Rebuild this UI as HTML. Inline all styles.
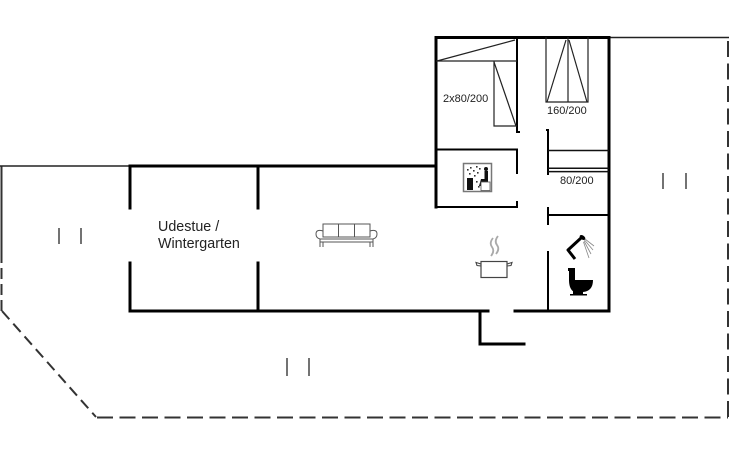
<!DOCTYPE html>
<html>
<head>
<meta charset="utf-8">
<style>
  html, body { margin: 0; padding: 0; background: #fff; }
  svg { display: block; }
  text { font-family: "Liberation Sans", Arial, sans-serif; fill: #222; }
</style>
</head>
<body>
<svg width="730" height="450" viewBox="0 0 730 450" xmlns="http://www.w3.org/2000/svg">
  <rect x="0" y="0" width="730" height="450" fill="#fff"/>

  <!-- Outer boundary (terrace) -->
  <g fill="none" stroke="#333" stroke-width="2">
    <path d="M1.5,166 V252"/>
    <path d="M1.5,252 V311" stroke-dasharray="11 5"/>
    <path d="M2,311 L96,417" stroke-dasharray="11 6"/>
    <path d="M97,417.5 H728" stroke-dasharray="16 6.5"/>
    <path d="M728,417 V38" stroke-dasharray="16 6.5"/>
  </g>
  <path d="M0,166 H130" stroke="#222" stroke-width="1.6" fill="none"/>
  <path d="M609,37.5 H729" stroke="#222" stroke-width="1.6" fill="none"/>

  <!-- Thick exterior walls -->
  <g fill="none" stroke="#000" stroke-width="3" stroke-linecap="square">
    <path d="M130,166 H436"/>
    <path d="M436,207 V37.5 H609 V311"/>
    <path d="M130,208 V166"/>
    <path d="M130,263 V311 H488"/>
    <path d="M258,166 V208"/>
    <path d="M258,263 V311"/>
    <path d="M480,311 V344 H524"/>
    <path d="M515,311 H609"/>
  </g>

  <!-- Interior walls -->
  <g fill="none" stroke="#000" stroke-width="2">
    <path d="M517,37 V132 H520"/>
    <path d="M436,149.5 H517 V174"/>
    <path d="M517,201 V207 H436"/>
    <path d="M546,130 H548 V175"/>
    <path d="M548,207 V225"/>
    <path d="M548,215 H609"/>
    <path d="M548,251 V311"/>
  </g>
  <g fill="none" stroke="#111" stroke-width="1.5">
    <path d="M548,150.5 H609"/>
    <path d="M548,168.2 H609"/>
    <path d="M548,171.6 H609"/>
  </g>

  <!-- Beds -->
  <g fill="none" stroke="#222" stroke-width="1.2">
    <path d="M436,61 H517"/>
    <path d="M437,61 L515,40"/>
    <path d="M494,61 V126 H517"/>
    <path d="M494,62 L516,126"/>
    <path d="M546,37 V102 H588 V37"/>
    <path d="M568,37 V102"/>
    <path d="M547,102 L566,40"/>
    <path d="M569,40 L587,102"/>
  </g>

  <!-- Labels -->
  <text x="443" y="102" font-size="11">2x80/200</text>
  <text x="547" y="114" font-size="11">160/200</text>
  <text x="560" y="184" font-size="11">80/200</text>
  <text x="158" y="231" font-size="14.3">Udestue /</text>
  <text x="158" y="248" font-size="14.3">Wintergarten</text>

  <!-- Small marks -->
  <g stroke="#444" stroke-width="1.5">
    <path d="M59,228 V244"/>
    <path d="M81,228 V244"/>
    <path d="M663,173 V189"/>
    <path d="M686,173 V189"/>
    <path d="M287,358 V376"/>
    <path d="M309,358 V376"/>
  </g>

  <!-- Sofa -->
  <g fill="none" stroke="#555" stroke-width="1">
    <rect x="323" y="224" width="47" height="13"/>
    <path d="M338.5,224 V237 M354.5,224 V237"/>
    <path d="M323,231 Q316,229 316,234 Q316,238 320,239 V247"/>
    <path d="M370,231 Q377,229 377,234 Q377,238 373,239 V247"/>
    <path d="M320,239 H373"/>
    <path d="M320,242 H373"/>
    <path d="M323,242 V247 M370,242 V247"/>
  </g>

  <!-- Sauna icon -->
  <g>
    <rect x="463.5" y="163.5" width="28" height="28" fill="#fff" stroke="#777" stroke-width="1.5"/>
    <rect x="467" y="178" width="6" height="12" fill="#111"/>
    <circle cx="486" cy="169" r="2" fill="#111"/>
    <path d="M484.5,171 H488 V182 H483 L481,186 H479 L481,179 H484.5 Z" fill="#111"/>
    <rect x="481" y="182" width="9" height="8.5" fill="#fff" stroke="#555" stroke-width="0.8"/>
    <g fill="#333">
      <rect x="467" y="169" width="1.6" height="1.6"/>
      <rect x="470" y="167" width="1.6" height="1.6"/>
      <rect x="473" y="170" width="1.6" height="1.6"/>
      <rect x="476" y="166" width="1.6" height="1.6"/>
      <rect x="469" y="173" width="1.6" height="1.6"/>
      <rect x="474" y="175" width="1.6" height="1.6"/>
      <rect x="477" y="172" width="1.6" height="1.6"/>
      <rect x="479" y="168" width="1.6" height="1.6"/>
      <rect x="476" y="181" width="1.6" height="1.6"/>
      <rect x="478" y="186" width="1.6" height="1.6"/>
    </g>
  </g>

  <!-- Pot with steam -->
  <g fill="none">
    <path d="M493,238 Q489,243 492,247 Q495,251 491,256" stroke="#aaa" stroke-width="1.8"/>
    <path d="M498,236 Q494,241 497,245 Q500,249 496,254" stroke="#aaa" stroke-width="1.8"/>
    <rect x="481" y="261.5" width="26" height="16" stroke="#444" stroke-width="1.2" fill="#fff"/>
    <path d="M481,264 L476,262.5 L477,265.5 L481,266" stroke="#444" stroke-width="1.1"/>
    <path d="M507,264 L512,262.5 L511,265.5 L507,266" stroke="#444" stroke-width="1.1"/>
  </g>

  <!-- Shower -->
  <g>
    <path d="M581,238 L568,250 L575,259" fill="none" stroke="#000" stroke-width="3" stroke-linejoin="round"/>
    <ellipse cx="582.5" cy="237.5" rx="3.2" ry="2" transform="rotate(35 582.5 237.5)" fill="#000"/>
    <g stroke="#888" stroke-width="0.8">
      <path d="M585,239 L594,246"/>
      <path d="M584.5,240 L593,250"/>
      <path d="M584,241 L591,254"/>
      <path d="M583.5,242 L589,258"/>
    </g>
  </g>

  <!-- Toilet -->
  <g fill="#000">
    <rect x="568" y="268" width="7" height="3"/>
    <rect x="569" y="270" width="6" height="11"/>
    <path d="M569,280 H593 Q593,291 583,292 H574 Q569,289 569,280 Z"/>
    <rect x="573" y="291" width="10" height="3"/>
    <rect x="570" y="294" width="17" height="1.5"/>
  </g>
</svg>
</body>
</html>
